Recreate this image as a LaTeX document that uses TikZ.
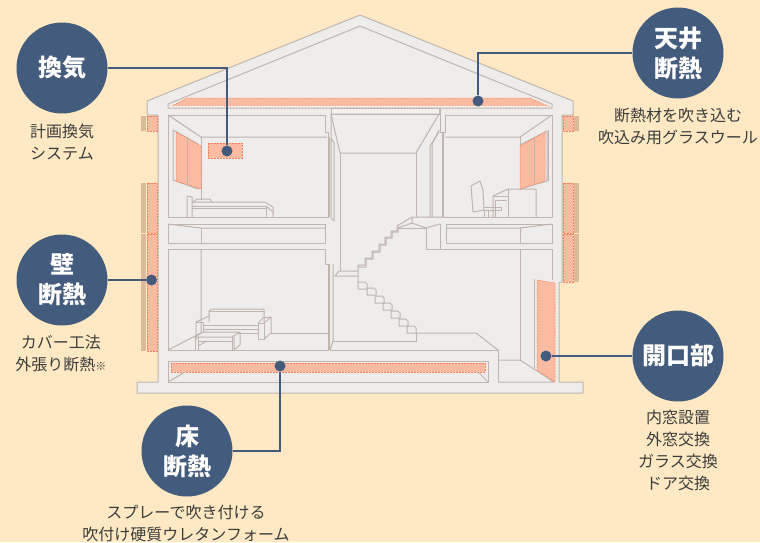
\documentclass[tikz,border=0pt]{standalone}
\usepackage{fontspec}
\setmainfont{Noto Sans CJK JP}
\definecolor{bgcream}{HTML}{FFE9C4}
\definecolor{housefill}{HTML}{EFEDEB}
\definecolor{houseline}{HTML}{BFB4AE}
\definecolor{navy}{HTML}{435B7C}
\definecolor{salmon}{HTML}{FBBBA0}
\definecolor{salmondash}{HTML}{F57F5E}
\definecolor{tanstrip}{HTML}{DDBB98}
\definecolor{captiontext}{HTML}{3C3C3C}

\begin{document}
\begin{tikzpicture}[x=1pt,y=-1pt]
	% Define styles
	\tikzstyle{house}=[draw=houseline,line width=1pt,line join=round]
	\tikzstyle{insul}=[fill=salmon,draw=salmondash,line width=0.5pt,dash pattern=on 2pt off 1pt]
	\tikzstyle{topic}=[circle,fill=navy,text=white,minimum size=91pt,inner sep=0pt,align=center,font=\fontsize{24}{30}\selectfont\bfseries]
	\tikzstyle{caption}=[align=center,text=captiontext,font=\fontsize{16}{22}\selectfont]
	\tikzstyle{dot}=[circle,fill=navy,minimum size=11pt,inner sep=0pt]
	\tikzstyle{leader}=[draw=navy,line width=2.3pt]

	% Background
	\fill[bgcream] (0,0) rectangle (760,542);
	\useasboundingbox (0,0) rectangle (760,542);

	% House outline
	\draw[house,fill=housefill] (360,15) -- (147,101) -- (147,115) -- (158,115) -- (158,382) -- (137,382) -- (137,393)
		-- (583,393) -- (583,382) -- (559,382) -- (559,282) -- (562,282) -- (562,115) -- (573,115) -- (573,101) -- cycle;

	% Attic
	\draw[house] (360,26) -- (168,104) -- (168,108) -- (552,108) -- (552,104) -- cycle;
	\fill[salmon] (171,106.5) -- (187,98) -- (530,98) -- (549,106.5) -- cycle;
	\draw[salmondash,line width=0.5pt,dash pattern=on 2pt off 1pt] (171,106.5) -- (187,98) -- (530,98) -- (549,106.5);
	\draw[white,line width=0.5pt,dash pattern=on 2pt off 1pt] (171,106.5) -- (549,106.5);

	% Wall insulation, left
	\foreach \ya/\yb in {116/131,183/233,234/351} {
		\fill[tanstrip] (141,\ya) rectangle (146,\yb);
		\draw[insul] (147,\ya) rectangle (157,\yb);
	}
	% Wall insulation, right
	\foreach \ya/\yb in {116/131,183/233,234/282} {
		\fill[tanstrip] (574,\ya) rectangle (579,\yb);
		\draw[insul] (563,\ya) rectangle (573,\yb);
	}

	% Upper left room
	\draw[house] (168,115) -- (325,115) -- (325,132) -- (328,132) -- (328,217) -- (168,217) -- cycle;
	\draw[house] (168,115) -- (201,137) -- (327,137);
	\draw[house] (201,137) -- (201,200);
	\draw[house] (173,130) -- (198,144) -- (198,189) -- (173,180) -- cycle;
	\draw[insul] (176,132) -- (201,146) -- (201,189) -- (176,181) -- cycle;
	\draw[house] (187,137) -- (187,185);
	\draw[insul] (208,143) rectangle (242,158);
	% Bed
	\draw[house] (187,217) -- (187,196) -- (192,197) -- (192,217);
	\draw[house] (193,202) -- (197,199) -- (210,199) -- (212,202);
	\draw[house] (192,202) -- (265,202) -- (273,207) -- (273,217);
	\draw[house] (192,206) -- (266,206) -- (266,217);
	\draw[house] (192,208) -- (266,208);
	\draw[house] (266,206) -- (273,212);

	% Middle band, left
	\draw[house] (168,224) -- (325,224) -- (325,243) -- (168,243) -- cycle;
	\draw[house] (168,224) -- (201,228) -- (325,228);
	\draw[house] (201,228) -- (201,243);

	% Lower left room
	\draw[house] (168,249) -- (325,249) -- (325,264) -- (328,264) -- (328,350) -- (168,350) -- cycle;
	\draw[house] (201,249) -- (201,333) -- (168,350);
	\draw[house] (270,333) -- (328,333);
	% Sofa
	\draw[house] (209,322) -- (209,311) -- (212,309) -- (264,309) -- (264,322);
	\draw[house] (209,311) -- (264,311);
	\draw[house] (196,340) -- (196,322) -- (209,316);
	\draw[house] (196,322) -- (203,322) -- (203,337);
	\draw[house] (203,325) -- (258,325);
	\draw[house] (203,329) -- (258,329);
	\draw[house] (203,333) -- (258,333);
	\draw[house] (258,323) -- (264,323) -- (264,339) -- (258,339) -- cycle;
	\draw[house] (258,323) -- (263,318) -- (271,317) -- (271,333) -- (264,339);
	\draw[house] (264,323) -- (271,317);
	\draw[house,fill=housefill] (195,337) -- (203,332) -- (240,332) -- (232,337) -- cycle;
	\draw[house] (195,337) -- (195,350);
	\draw[house] (198,337) -- (198,350);
	\draw[house] (198,341) -- (232,341);
	\draw[house] (198,346) -- (207,341);
	\draw[house] (232,337) -- (232,350);
	\draw[house] (234,337) -- (234,350) -- (240,345) -- (240,332);

	% Stairwell
	\draw[house,fill=white!30!housefill] (331,108) rectangle (439,114);
	\draw[house] (331,114) -- (340,153) -- (416,153) -- (439,114) -- cycle;
	\draw[house] (340,153) -- (340,271);
	\draw[house] (416,153) -- (416,217);
	\draw[house] (331,114) -- (331,218) -- (334,221) -- (334,143) -- (331,138);
	\draw[house] (329,137) -- (329,217);
	\draw[house] (329,264) -- (329,350);
	\draw[house] (333,264) -- (333,341) -- (330,350);
	\draw[house] (439,132) -- (430,146) -- (430,217);
	\draw[house] (439,130) -- (432,144) -- (432,217);
	\draw[house] (440,108) -- (440,132) -- (442,132) -- (442,217);

	% Stairs going up
	\draw[house] (358,276) -- (335,276) -- (339,271) -- (358,271);
	\draw[house] (358,282) -- (358,265) -- (365,265) -- (365,258) -- (372,258) -- (372,251) -- (379,251) -- (379,244) -- (385,244) -- (385,237)
		-- (391,237) -- (391,231) -- (397,231) -- (397,226) -- (412,217) -- (443,217);
	\draw[house] (358,267) -- (366,267) -- (366,259) -- (373,259) -- (373,252) -- (380,252) -- (380,245) -- (386,245) -- (386,238) -- (392,238) -- (392,232) -- (398,232) -- (398,228) -- (412,223);
	\draw[house] (412,217) -- (412,223) -- (426,228) -- (440,224);
	\draw[house] (398,228) -- (426,228);
	\draw[house] (426,228) -- (426,249) -- (440,249) -- (440,224);
	% Stairs going down
	\foreach \xa/\ya in {358/282,367/288,375/296,383/303,391/311,399/319,407/326} {
		\draw[house] (\xa,\ya) -- (\xa+7,\ya) -- (\xa+9,\ya+2) -- (\xa+9,\ya+7) -- (\xa,\ya+7) -- cycle;
	}
	\draw[house] (416,333) -- (476,333) -- (498,350);
	\draw[house] (333,341) -- (416,341) -- (416,333);
	\draw[house] (330,350) -- (498,350) -- (498,382);

	% Foundation
	\draw[house] (168,361) rectangle (488,382);
	\draw[insul] (171,363) rectangle (485,372);
	\draw[house] (168,382) -- (185,372);
	\draw[house] (478,372) -- (488,382);
	\draw[house] (498,382) -- (554,382) -- (520,360) -- (498,360);

	% Upper right room
	\draw[house] (445,115) -- (552,115) -- (552,217) -- (443,217) -- (443,132) -- (445,132) -- cycle;
	\draw[house] (445,137) -- (520,137) -- (552,115);
	\draw[house] (520,137) -- (520,190);
	\draw[house] (520,145) -- (547,131) -- (547,181) -- (520,189);
	\draw[house] (548,130) -- (548,181);
	\draw[insul] (520,146) -- (545,132) -- (545,181) -- (520,189) -- cycle;
	\draw[house] (534,138) -- (534,183);
	% Desk and chair
	\draw[house] (471,186) -- (480,181) -- (483,190) -- (484,210) -- (473,212) -- cycle;
	\draw[house] (484,207) -- (501,207) -- (501,210) -- (484,210);
	\draw[house] (484,210) -- (484,217);
	\draw[house] (488,210) -- (488,217);
	\draw[house] (493,217) -- (493,196) -- (508,189) -- (536,189) -- (536,217);
	\draw[house] (493,196) -- (508,196);
	\draw[house] (495,200) -- (507,200);
	\draw[house] (495,200) -- (495,217);
	\draw[house] (508,189) -- (508,217);

	% Middle band, right
	\draw[house] (446,224) -- (552,224) -- (552,243) -- (446,243) -- cycle;
	\draw[house] (446,228) -- (520,228) -- (552,224);
	\draw[house] (520,228) -- (520,243);

	% Lower right room
	\draw[house] (440,249) -- (552,249) -- (552,280);
	\draw[house] (520,249) -- (520,360);
	\draw[house] (534,279) -- (534,368);
	\draw[insul] (537,280) -- (555,283) -- (555,382) -- (537,370) -- cycle;

	% Topics
	\node[topic] (kanki) at (62,68) {換気};
	\node[topic] (tenjo) at (678,53) {天井\\断熱};
	\node[topic] (kabe) at (62,280) {壁\\断熱};
	\node[topic] (yuka) at (187,451) {床\\断熱};
	\node[topic] (kaiko) at (678,356) {開口部};

	% Dots on the insulation
	\node[dot] (kankidot) at (227,151) {};
	\node[dot] (tenjodot) at (478,101) {};
	\node[dot] (kabedot) at (151.5,280) {};
	\node[dot] (yukadot) at (280,366) {};
	\node[dot] (kaikodot) at (546,356) {};

	% Connectors
	\draw[leader] (kanki.east) -| (kankidot);
	\draw[leader] (tenjo.west) -| (tenjodot);
	\draw[leader] (kabe.east) -- (kabedot);
	\draw[leader] (yuka.east) -| (yukadot);
	\draw[leader] (kaiko.west) -- (kaikodot);

	% Captions
	\node[caption] (kankicap) at (62,142) {計画換気\\システム};
	\node[caption] (tenjocap) at (678,126) {断熱材を吹き込む\\吹込み用グラスウール};
	\node[caption] (kabecap) at (61,353) {カバー工法\\外張り断熱{\fontsize{11}{11}\selectfont ※}};
	\node[caption] (kaikocap) at (678,450.5) {内窓設置\\外窓交換\\ガラス交換\\ドア交換};
	\node[caption] (yukacap) at (186,523) {スプレーで吹き付ける\\吹付け硬質ウレタンフォーム};
\end{tikzpicture}
\end{document}
